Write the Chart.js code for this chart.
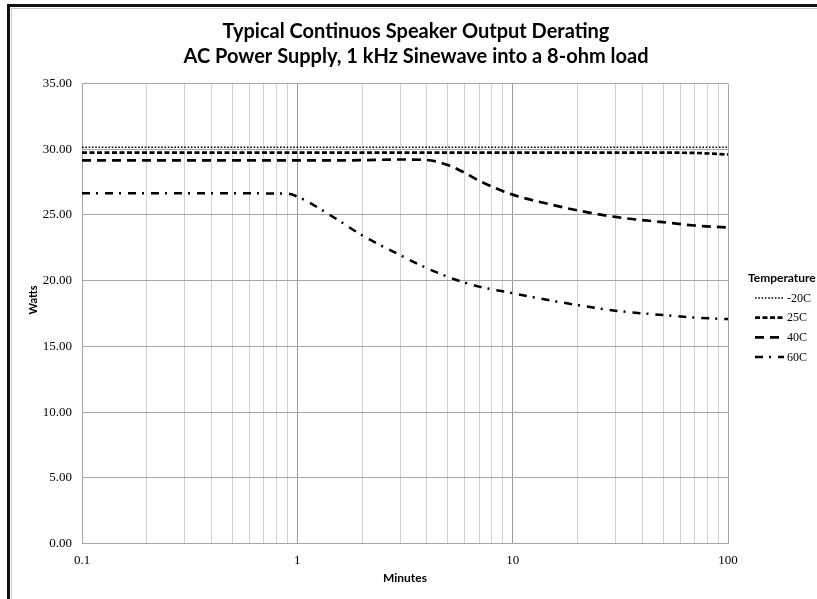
<!DOCTYPE html>
<html>
<head>
<meta charset="utf-8">
<title>Speaker Output Derating</title>
<script src="https://cdn.jsdelivr.net/npm/chart.js@4.4.1/dist/chart.umd.min.js"></script>
<style>
    html, body { margin: 0; padding: 0; background: #fff; }
    #wrap { width: 817px; height: 599px; position: relative; }
</style>
</head>
<body>
<div id="wrap"><canvas id="derating"></canvas></div>
<script>
/* ==========================================================================
   Data
   ========================================================================== */

const minutes = [0.1, 0.2, 0.5, 0.9, 1, 1.5, 2, 3, 4, 5, 6, 7, 10, 15, 20, 30, 50, 70, 100];

const seriesLabels = ['-20C', '25C', '40C', '60C'];

const wattsMinus20 = [30.15, 30.15, 30.15, 30.15, 30.15, 30.15, 30.15, 30.15, 30.15, 30.15,
                      30.15, 30.15, 30.15, 30.15, 30.15, 30.15, 30.15, 30.15, 30.15];
const watts25 = [29.75, 29.75, 29.75, 29.75, 29.75, 29.75, 29.75, 29.75, 29.75, 29.75,
                 29.75, 29.75, 29.75, 29.75, 29.75, 29.75, 29.74, 29.72, 29.6];
const watts40 = [29.15, 29.15, 29.15, 29.15, 29.15, 29.15, 29.17, 29.22, 29.18, 28.8,
                 28.2, 27.6, 26.55, 25.8, 25.35, 24.85, 24.45, 24.2, 24.05];
const watts60 = [26.65, 26.65, 26.65, 26.62, 26.4, 24.75, 23.45, 21.95, 20.95, 20.3,
                 19.85, 19.55, 19.05, 18.5, 18.15, 17.72, 17.39, 17.2, 17.08];

// log axis gridlines and the ones that carry a label
const xTickValues = [0.1, 0.2, 0.3, 0.4, 0.5, 0.6, 0.7, 0.8, 0.9,
                     1, 2, 3, 4, 5, 6, 7, 8, 9,
                     10, 20, 30, 40, 50, 60, 70, 80, 90, 100];
const xTickLabels = [0.1, 1, 10, 100];
const xMajorLines = [1, 10];

const titleLines = ['Typical Continuos Speaker Output Derating',
                    'AC Power Supply, 1 kHz Sinewave into a 8-ohm load'];

/* ==========================================================================
   Helpers
   ========================================================================== */

const SANS = 'Lato, "Liberation Sans", sans-serif';
const SERIF = '"Liberation Serif", "DejaVu Serif", serif';

function toPoints(values) {
    return minutes.map((m, i) => ({ x: m, y: values[i] }));
}

function lineDataset(label, values, width, dash) {
    return {
        label: label,
        data: toPoints(values),
        borderColor: '#000000',
        backgroundColor: '#000000',
        borderWidth: width,
        borderDash: dash,
        borderCapStyle: 'butt',
        pointRadius: 0,
        pointHoverRadius: 0,
        cubicInterpolationMode: 'monotone',
        fill: false
    };
}

/* ==========================================================================
   Plugins: frame, y-axis title, legend block
   ========================================================================== */

const framePlugin = {
    id: 'frame',
    beforeDraw(chart) {
        const ctx = chart.ctx;
        ctx.save();
        ctx.fillStyle = '#ffffff';
        ctx.fillRect(0, 0, chart.width, chart.height);
        // cropped box round the whole chart
        ctx.fillStyle = '#111111';
        ctx.fillRect(7, 4, chart.width - 7, 3);
        ctx.fillRect(7, 4, 3, chart.height - 4);
        ctx.fillStyle = '#c8c8c8';
        ctx.fillRect(11, 8, chart.width - 11, 1);
        ctx.fillRect(11, 8, 1, chart.height - 8);
        ctx.restore();
    }
};

const yTitlePlugin = {
    id: 'yTitle',
    afterDraw(chart) {
        const ctx = chart.ctx;
        ctx.save();
        ctx.translate(33, 300);
        ctx.rotate(-Math.PI / 2);
        ctx.font = 'bold 11px ' + SANS;
        ctx.fillStyle = '#000';
        ctx.textAlign = 'center';
        ctx.textBaseline = 'middle';
        ctx.fillText('Watts', 0, 0);
        ctx.restore();
    }
};

const legendPlugin = {
    id: 'tempLegend',
    afterDraw(chart) {
        const ctx = chart.ctx;
        ctx.save();
        ctx.fillStyle = '#000';
        ctx.textBaseline = 'middle';
        ctx.textAlign = 'left';
        ctx.font = 'bold 12px ' + SANS;
        ctx.fillText('Temperature', 748, 278);

        chart.data.datasets.forEach((ds, i) => {
            const y = 298 + i * 19.7;
            ctx.beginPath();
            ctx.strokeStyle = ds.borderColor;
            ctx.lineWidth = ds.borderWidth;
            ctx.setLineDash(ds.borderDash || []);
            ctx.moveTo(755, y);
            ctx.lineTo(784, y);
            ctx.stroke();
            ctx.setLineDash([]);
            ctx.font = '12px ' + SERIF;
            ctx.fillText(ds.label, 787, y + 0.5);
        });
        ctx.restore();
    }
};

/* ==========================================================================
   Chart
   ========================================================================== */

const canvas = document.getElementById('derating');
canvas.width = 817;
canvas.height = 599;

new Chart(canvas.getContext('2d'), {
    type: 'line',
    data: {
        datasets: [
            lineDataset(seriesLabels[0], wattsMinus20, 1.7, [1.6, 1.7]),
            lineDataset(seriesLabels[1], watts25, 2.7, [5, 2.5]),
            lineDataset(seriesLabels[2], watts40, 2.7, [9, 6]),
            lineDataset(seriesLabels[3], watts60, 2.5, [8, 6, 2, 7])
        ]
    },
    options: {
        responsive: false,
        animation: false,
        layout: { padding: { left: 15, right: 0, top: 0, bottom: 0 } },
        plugins: {
            legend: { display: false },
            tooltip: { enabled: false },
            title: {
                display: true,
                text: titleLines,
                color: '#000',
                font: { family: SANS, size: 20, weight: 'bold', lineHeight: 1.25 },
                padding: { top: 19.5, bottom: 14 }
            }
        },
        scales: {
            x: {
                type: 'logarithmic',
                min: 0.1,
                max: 100,
                afterBuildTicks: scale => {
                    scale.ticks = xTickValues.map(v => ({ value: v }));
                },
                afterFit: scale => { scale.height = 55.3; },
                ticks: {
                    autoSkip: false,
                    maxRotation: 0,
                    padding: 9,
                    color: '#000',
                    font: { family: SERIF, size: 13 },
                    callback: value => xTickLabels.includes(value) ? String(value) : ''
                },
                grid: {
                    drawTicks: false,
                    lineWidth: 1,
                    color: ctx => {
                        const v = ctx.tick && ctx.tick.value;
                        if (xMajorLines.includes(v)) return '#9a9a9a';
                        if (v === 0.1 || v === 100) return '#a6a6a6';
                        return '#d2d2d2';
                    }
                },
                border: { color: '#a6a6a6' },
                title: {
                    display: true,
                    text: 'Minutes',
                    color: '#000',
                    font: { family: SANS, size: 12, weight: 'bold', lineHeight: 1.2 },
                    padding: { top: 0, bottom: 14 }
                }
            },
            y: {
                min: 0,
                max: 35,
                afterFit: scale => { scale.width = 67; },
                ticks: {
                    stepSize: 5,
                    padding: 10,
                    color: '#000',
                    font: { family: SERIF, size: 13 },
                    callback: value => value.toFixed(2)
                },
                grid: { drawTicks: false, color: '#a6a6a6', lineWidth: 1 },
                border: { color: '#a6a6a6' }
            },
            legendSpace: {
                type: 'linear',
                position: 'right',
                display: true,
                afterFit: scale => { scale.width = 89; },
                ticks: { display: false },
                grid: { display: false, drawTicks: false },
                border: { display: false }
            }
        }
    },
    plugins: [framePlugin, yTitlePlugin, legendPlugin]
});
</script>
</body>
</html>
